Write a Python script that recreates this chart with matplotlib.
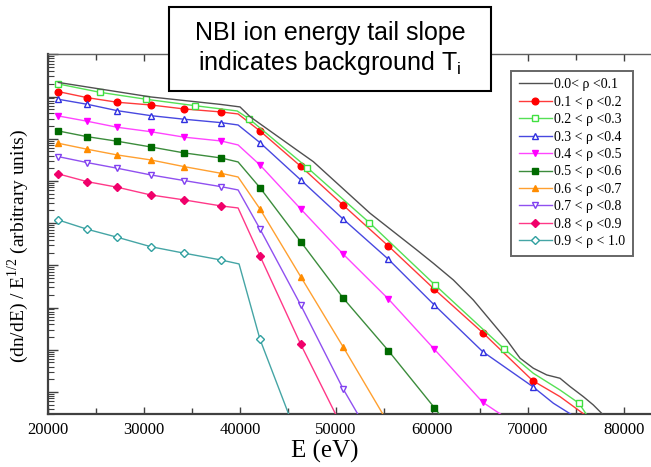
"""
NBI fast-ion energy spectra by radial zone
==========================================
Log-scale energy tails for ten rho bins, with the note that the tail
slope above the injection energy follows the background ion temperature.
"""

import matplotlib

matplotlib.use("Agg")
import matplotlib.pyplot as plt
from matplotlib.patches import Rectangle
from matplotlib.ticker import LogLocator, NullFormatter

plt.rcParams["font.family"] = ["Liberation Serif", "DejaVu Serif"]
plt.rcParams["mathtext.fontset"] = "custom"
plt.rcParams["mathtext.rm"] = "Liberation Serif"
plt.rcParams["mathtext.sf"] = "Liberation Sans"

# Energy (eV) and (dn/dE)/E^1/2 (arbitrary units).
E_00 = [21070, 30700, 38020, 40000, 41040, 45910, 47640, 53540, 58410, 60140, 62220,
        64300, 66040, 67780, 69170, 70550, 71950, 73330, 74380, 75760, 76800, 77840]
Y_00 = [2.16e7, 9.79e6, 6.50e6, 5.68e6, 3.34e6, 5.43e5, 2.86e5, 1.72e4, 2.32e3, 1.12e3, 451,
        151, 50.8, 17.1, 6.30, 3.65, 2.53, 2.11, 1.34, 0.774, 0.492, 0.285]

E_01 = [21070, 24090, 27220, 30700, 34200, 38020, 39800, 42080, 46320, 50760, 55450,
        60240, 65280, 70490, 73330, 75940]
Y_01 = [1.31e7, 9.42e6, 7.33e6, 6.32e6, 5.08e6, 4.32e6, 3.87e6, 1.53e6, 2.23e5, 2.65e4, 2.88e3,
        272, 25.4, 1.85, 0.774, 0.285]
MARK_01 = [0, 1, 2, 3, 4, 5, 7, 8, 9, 10, 11, 12, 13]

E_02 = [21070, 25420, 30210, 35310, 39700, 40970, 47010, 53470, 60310, 67530, 70550,
        73330, 75310, 76120]
Y_02 = [1.99e7, 1.26e7, 8.63e6, 6.08e6, 4.56e6, 2.94e6, 2.07e5, 1.03e4, 344, 10.4, 2.77,
        1.11, 0.54, 0.285]
MARK_02 = [0, 1, 2, 3, 5, 6, 7, 8, 9, 12]

E_03 = [21070, 24090, 27220, 30700, 34200, 38020, 39800, 42080, 46320, 50760, 55450,
        60240, 65280, 70490, 72640, 74580]
Y_03 = [8.63e6, 6.56e6, 4.63e6, 3.53e6, 2.90e6, 2.41e6, 2.12e6, 8.09e5, 1.06e5, 1.24e4, 1.40e3,
        115, 9.02, 1.34, 0.54, 0.285]
MARK_03 = [0, 1, 2, 3, 4, 5, 7, 8, 9, 10, 11, 12, 13]

E_04 = [21070, 24090, 27220, 30700, 34200, 38020, 39800, 42080, 46320, 50760, 55450,
        60240, 65280, 67260]
Y_04 = [3.47e6, 2.60e6, 1.87e6, 1.47e6, 1.09e6, 8.87e5, 7.13e5, 2.39e5, 2.17e4, 1.83e3, 160,
        10.3, 0.57, 0.285]
MARK_04 = [0, 1, 2, 3, 4, 5, 7, 8, 9, 10, 11, 12]

E_05 = [21070, 24090, 27220, 30700, 34200, 38020, 39800, 42080, 46320, 50760, 55450,
        60240, 60830]
Y_05 = [1.53e6, 1.12e6, 8.73e5, 6.40e5, 4.61e5, 3.51e5, 2.82e5, 6.93e4, 3.65e3, 166, 9.53,
        0.425, 0.285]
MARK_05 = [0, 1, 2, 3, 4, 5, 7, 8, 9, 10, 11]

E_06 = [21070, 24090, 27220, 30700, 34200, 38020, 39800, 42080, 46320, 50760, 54930]
Y_06 = [7.82e5, 5.64e5, 4.13e5, 3.15e5, 2.18e5, 1.52e5, 1.24e5, 2.17e4, 540, 11.5, 0.285]
MARK_06 = [0, 1, 2, 3, 4, 5, 7, 8, 9]

E_07 = [21070, 24090, 27220, 30700, 34200, 38020, 39800, 42080, 46320, 50760, 52320]
Y_07 = [3.77e5, 2.72e5, 2.00e5, 1.39e5, 1.02e5, 7.33e4, 6.12e4, 7.29e3, 115, 1.16, 0.285]
MARK_07 = [0, 1, 2, 3, 4, 5, 7, 8, 9]

E_08 = [21070, 24090, 27220, 30700, 34200, 38020, 39800, 42080, 46320, 50000]
Y_08 = [1.47e5, 9.62e4, 7.10e4, 4.66e4, 3.55e4, 2.56e4, 2.29e4, 1.67e3, 13.5, 0.285]
MARK_08 = [0, 1, 2, 3, 4, 5, 7, 8]

E_09 = [21070, 24090, 27220, 30700, 34200, 38020, 39900, 42080, 45100]
Y_09 = [1.19e4, 7.16e3, 4.63e3, 2.77e3, 1.94e3, 1.34e3, 1.08e3, 17.7, 0.285]
MARK_09 = [0, 1, 2, 3, 4, 5, 7]

LABELS = ["0.0< ρ <0.1", "0.1 < ρ <0.2", "0.2 < ρ <0.3", "0.3 < ρ <0.4", "0.4 < ρ <0.5",
          "0.5 < ρ <0.6", "0.6 < ρ <0.7", "0.7 < ρ <0.8", "0.8 < ρ <0.9", "0.9 < ρ < 1.0"]
LINE_COLORS = ["#505050", "#ff3a3a", "#55e055", "#4848e0", "#ff45ff",
               "#3c8c3c", "#ffa030", "#9050f0", "#ff3888", "#45a5a5"]
MARK_COLORS = ["#505050", "#ff0000", "#40e040", "#3030e0", "#ff00ff",
               "#006a00", "#ff8c00", "#8040f0", "#f0006a", "#30a0a0"]
MARKERS = [None, "o", "s", "^", "v", "s", "^", "v", "D", "D"]
FILLED = [False, True, False, False, True, True, True, False, True, False]

X_TICKS = [20000, 30000, 40000, 50000, 60000, 70000, 80000]
X_MINOR = [25000, 35000, 45000, 55000, 65000, 75000]

FIG_W, FIG_H = 651, 467


def draw_series(ax, energy, values, marks, idx):
    """Plot one rho bin as a line with markers on the listed points."""
    marker = MARKERS[idx]
    face = MARK_COLORS[idx] if FILLED[idx] else "white"
    size = 4.2 if marker == "D" else 4.8
    ax.plot(
        energy,
        values,
        color=LINE_COLORS[idx],
        linewidth=1.0,
        marker=marker,
        markevery=marks,
        markersize=size,
        markerfacecolor=face,
        markeredgecolor=MARK_COLORS[idx],
        markeredgewidth=1.0,
        label=LABELS[idx],
        zorder=3 if idx else 4,
    )


def main():
    fig = plt.figure(figsize=(FIG_W / 100, FIG_H / 100), dpi=100)
    ax = fig.add_axes([48 / FIG_W, 53 / FIG_H, 603 / FIG_W, 360 / FIG_H])

    series = [
        (E_00, Y_00, None),
        (E_01, Y_01, MARK_01),
        (E_02, Y_02, MARK_02),
        (E_03, Y_03, MARK_03),
        (E_04, Y_04, MARK_04),
        (E_05, Y_05, MARK_05),
        (E_06, Y_06, MARK_06),
        (E_07, Y_07, MARK_07),
        (E_08, Y_08, MARK_08),
        (E_09, Y_09, MARK_09),
    ]
    for idx, (energy, values, marks) in enumerate(series):
        draw_series(ax, energy, values, marks, idx)

    ax.set_yscale("log")
    ax.set_xlim(20000, 82810)
    ax.set_ylim(0.30, 1.02e8)
    ax.set_xticks(X_TICKS)
    ax.set_xticks(X_MINOR, minor=True)
    ax.yaxis.set_major_locator(LogLocator(base=10, numticks=20))
    ax.yaxis.set_minor_locator(LogLocator(base=10, subs=range(2, 10), numticks=20))
    ax.yaxis.set_major_formatter(NullFormatter())
    ax.yaxis.set_minor_formatter(NullFormatter())

    ax.tick_params(axis="both", which="both", direction="in", top=True, right=False,
                   color="#404040")
    ax.tick_params(axis="x", which="major", length=5, width=1.0, pad=6, labelsize=12)
    ax.tick_params(axis="x", which="minor", length=4, width=1.0)
    ax.tick_params(axis="y", which="major", length=7, width=1.0, labelleft=False)
    ax.tick_params(axis="y", which="minor", length=4, width=0.8)

    ax.spines["right"].set_visible(False)
    for side in ("bottom", "left"):
        ax.spines[side].set_color("#404040")
        ax.spines[side].set_linewidth(1.6)
    ax.spines["top"].set_color("#606060")
    ax.spines["top"].set_linewidth(1.0)

    legend = ax.legend(
        loc="upper right",
        bbox_to_anchor=(0.970, 0.954),
        borderaxespad=0,
        fontsize=10,
        handlelength=2.4,
        handletextpad=0.15,
        labelspacing=0.32,
        borderpad=0.55,
        fancybox=False,
        framealpha=1,
        edgecolor="#666666",
        numpoints=1,
    )
    legend.get_frame().set_linewidth(1.4)

    fig.text(325 / FIG_W, 1 - 451 / FIG_H, "E (eV)", fontsize=18, ha="center", va="center")
    fig.text(18 / FIG_W, 1 - 246 / FIG_H, r"(dn/dE) / E$^{\mathrm{1/2}}$ (arbitrary units)",
             fontsize=14, rotation=90, ha="center", va="center")

    # annotation box sits over the top spine
    fig.add_artist(Rectangle((169 / FIG_W, 1 - 91 / FIG_H), 322 / FIG_W, 84 / FIG_H,
                             transform=fig.transFigure, facecolor="white", edgecolor="black",
                             linewidth=1.5, zorder=5))
    fig.text(330 / FIG_W, 1 - 49 / FIG_H,
             "NBI ion energy tail slope\nindicates background T$_\\mathsf{i}$",
             family="Liberation Sans", fontsize=18, linespacing=1.15,
             ha="center", va="center", zorder=6)

    fig.savefig("out.png", dpi=100)
    plt.close(fig)


if __name__ == "__main__":
    main()
